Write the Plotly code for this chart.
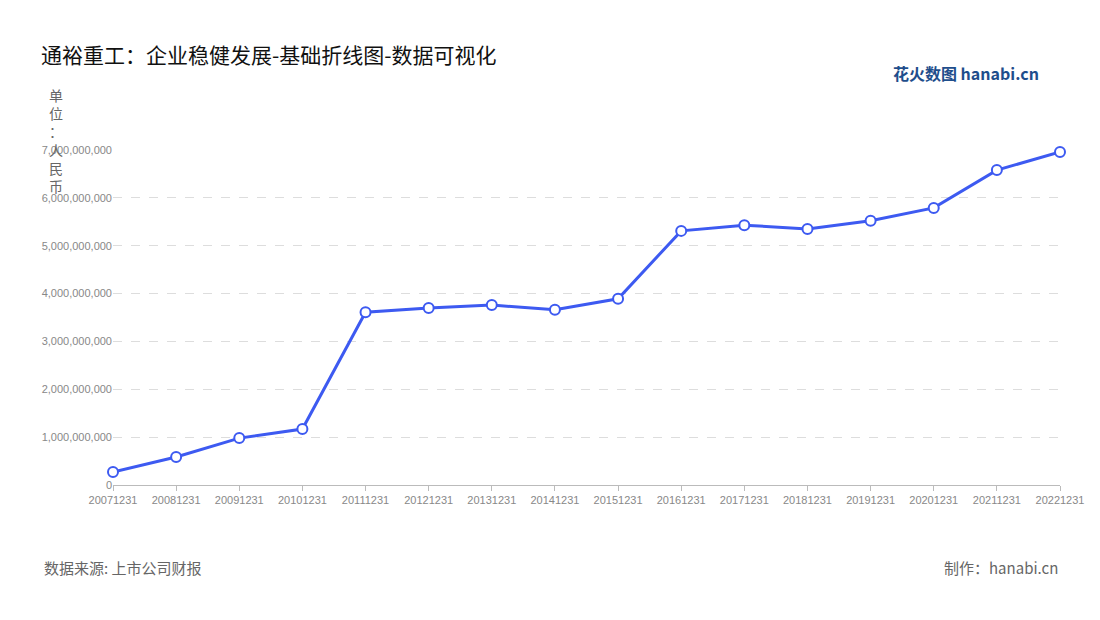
import plotly.graph_objects as go

years = ["20071231", "20081231", "20091231", "20101231", "20111231", "20121231",
         "20131231", "20141231", "20151231", "20161231", "20171231", "20181231",
         "20191231", "20201231", "20211231", "20221231"]
revenue = [0.27e9, 0.585e9, 0.98e9, 1.17e9, 3.61e9, 3.70e9, 3.76e9, 3.66e9,
           3.89e9, 5.31e9, 5.43e9, 5.35e9, 5.52e9, 5.79e9, 6.58e9, 6.96e9]
y_ticks = [0, 1e9, 2e9, 3e9, 4e9, 5e9, 6e9, 7e9]

font = "Noto Sans CJK SC"

fig = go.Figure(go.Scatter(
    x=years, y=revenue, mode="lines+markers",
    line=dict(color="#3d5af1", width=3),
    marker=dict(size=10, color="white", line=dict(color="#3d5af1", width=2)),
    hoverinfo="x+y", cliponaxis=False,
))

fig.update_layout(
    width=1100, height=620,
    paper_bgcolor="white", plot_bgcolor="white",
    margin=dict(l=105, r=48, t=142, b=143),
    font=dict(family=font, color="#888", size=11),
    showlegend=False,
    title=dict(text="通裕重工：企业稳健发展-基础折线图-数据可视化", x=0.03, y=0.935,
               xanchor="left", font=dict(size=21, color="#111", family=font)),
    xaxis=dict(type="category", range=[0, len(years) - 1], showgrid=False,
               showline=True, linecolor="#bbb", ticks="outside", ticklen=5,
               tickcolor="#bbb", tickfont=dict(size=11, color="#888", family="Liberation Sans")),
    yaxis=dict(range=[0, 7e9], tickvals=y_ticks,
               ticktext=[f"{int(v):,}" for v in y_ticks],
               showgrid=True, gridcolor="#ddd", griddash="dash", zeroline=False,
               tickfont=dict(size=11, color="#888", family="Liberation Sans")),
)

fig.add_annotation(text="单<br>位<br>：<br>人<br>民<br>币", xref="paper", yref="paper",
                   x=-0.06, y=1.2, xanchor="center", yanchor="top", showarrow=False,
                   font=dict(size=14, color="#666"), align="center")
fig.add_annotation(text="数据来源: 上市公司财报", xref="paper", yref="paper",
                   x=-0.075, y=-0.245, xanchor="left", yanchor="middle", showarrow=False,
                   font=dict(size=15, color="#666"))
fig.add_annotation(text="制作：hanabi.cn", xref="paper", yref="paper",
                   x=1.0, y=-0.245, xanchor="right", yanchor="middle", showarrow=False,
                   font=dict(size=15, color="#666"))
fig.add_annotation(text="<b>花火数图</b> <b>hanabi.cn</b>", xref="paper", yref="paper",
                   x=0.98, y=1.23, xanchor="right", yanchor="middle", showarrow=False,
                   font=dict(size=16, color="#1f4e8c"))

fig.write_html("out.html")
